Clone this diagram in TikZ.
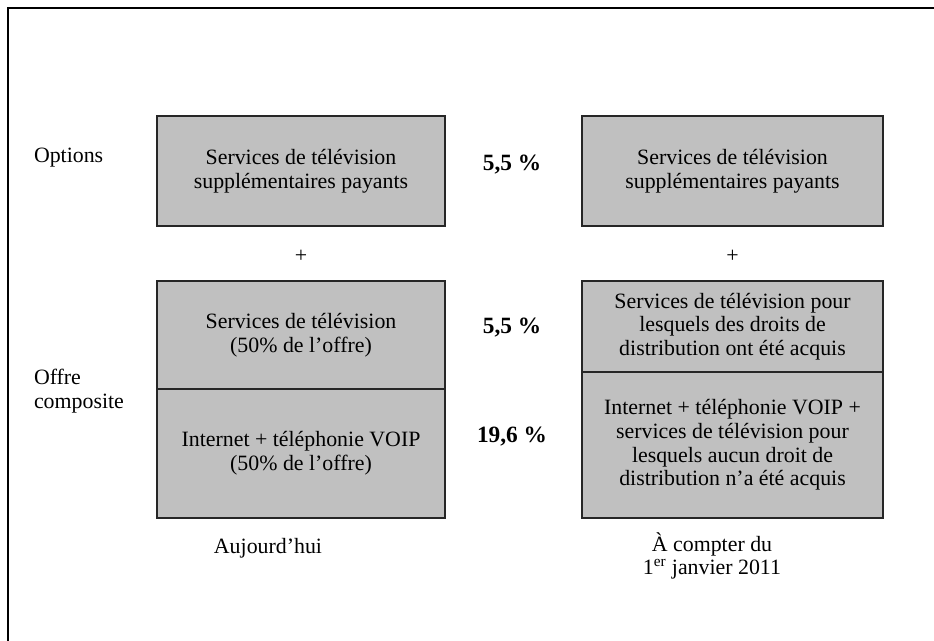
\documentclass[tikz,border=0pt]{standalone}
\usepackage{fontspec}
\setmainfont{Liberation Serif}
\usepackage{xcolor}
\usetikzlibrary{positioning}

\definecolor{cellgray}{HTML}{C0C0C0}

\begin{document}
\begin{tikzpicture}[x=0.75pt, y=-0.75pt,
    every node/.style={font=\fontsize{16.4}{17.8}\selectfont, align=center, inner sep=0pt, outer sep=0pt},
    cell/.style={draw=black!85, line width=1.1pt, fill=cellgray},
    pct/.style={font=\fontsize{17.5}{19}\selectfont\bfseries}]

\useasboundingbox (0,0) rectangle (934,641);

% Frame (top and left only)
\draw[line width=1.4pt] (934,8) -- (8,8) -- (8,641);

% Options row
\node[anchor=west] (options) at (34,158) {Options};
\node[cell, minimum width=216pt, minimum height=82.5pt] (optL) at (301,171)
    {Services de télévision\\supplémentaires payants};
\node[pct] (pctA) at (512,165) {5,5 \%};
\node[cell, minimum width=225.75pt, minimum height=82.5pt] (optR) at (732.5,171)
    {Services de télévision\\supplémentaires payants};

% Plus signs
\node (plusL) at (301,256) {+};
\node (plusR) at (732.5,256) {+};

% Composite offer, today
\node[anchor=west, align=left] (offre) at (34,391) {Offre\\composite};
\node[cell, minimum width=216pt, minimum height=81pt] (tvL) at (301,335)
    {Services de télévision\\(50\% de l’offre)};
\node[cell, minimum width=216pt, minimum height=96.75pt, below=0pt of tvL] (netL)
    {Internet + téléphonie VOIP\\(50\% de l’offre)};

% Rates
\node[pct] (pctB) at (512,328) {5,5 \%};
\node[pct] (pctC) at (512,437) {19,6 \%};

% Composite offer, from 2011
\node[cell, minimum width=225.75pt, minimum height=68.25pt] (tvR) at (732.5,326.5)
    {Services de télévision pour\\lesquels des droits de\\distribution ont été acquis};
\node[cell, minimum width=225.75pt, minimum height=109.5pt, below=0pt of tvR] (netR)
    {Internet + téléphonie VOIP +\\services de télévision pour\\lesquels aucun droit de\\distribution n’a été acquis};

% Captions
\node (today) at (268,548) {Aujourd’hui};
\node (later) at (712,556) {À compter du\\1\textsuperscript{er} janvier 2011};

\end{tikzpicture}
\end{document}
